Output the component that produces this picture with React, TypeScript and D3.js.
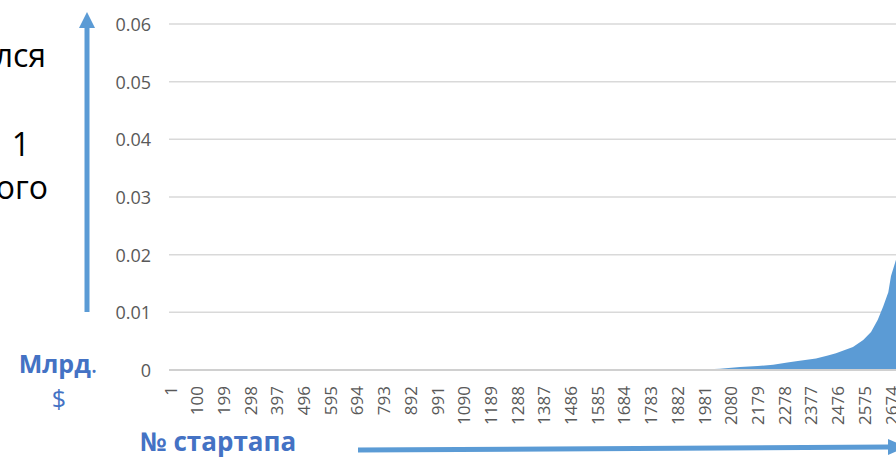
import React, { useEffect, useRef } from 'react';
import * as d3 from 'd3';

// startup rank (sorted ascending) and its value, bn $
const startupIndex = [1, 1850, 1881, 1930, 1977, 2040, 2114, 2180, 2237, 2290, 2322, 2396, 2440, 2470, 2533, 2571, 2600, 2625, 2645, 2664, 2674, 2693, 2710, 2740];
const valueBn = [0, 0, 0.00002, 0.00006, 0.0001, 0.0002, 0.0005, 0.0007, 0.0009, 0.0013, 0.0015, 0.002, 0.0025, 0.0029, 0.004, 0.0052, 0.0066, 0.0087, 0.011, 0.0135, 0.0163, 0.0192, 0.024, 0.035];

const xTickLabels = [1, 100, 199, 298, 397, 496, 595, 694, 793, 892, 991, 1090, 1189, 1288, 1387, 1486, 1585, 1684, 1783, 1882, 1981, 2080, 2179, 2278, 2377, 2476, 2575, 2674];
const yTickValues = [0, 0.01, 0.02, 0.03, 0.04, 0.05, 0.06];

const W = 896;
const H = 459;

const App: React.FC = () => {
  const svgRef = useRef<SVGSVGElement>(null);

  useEffect(() => {
    if (!svgRef.current) return;
    const svg = d3.select(svgRef.current);
    svg.selectAll('*').remove();

    const blue = '#5B9BD5';
    const dark = '#4472C4';
    const font = '"Open Sans", sans-serif';

    const x = d3.scaleLinear().domain([1, 2674]).range([170, 891]);
    const y = d3.scaleLinear().domain([0, 0.06]).range([370, 24]);

    const defs = svg.append('defs');
    defs.append('clipPath').attr('id', 'plotClip')
      .append('rect').attr('x', 169).attr('y', 0).attr('width', W - 169).attr('height', 372);

    // gridlines
    svg.append('g').selectAll('line')
      .data(yTickValues.filter(v => v > 0))
      .enter().append('line')
      .attr('x1', 169).attr('x2', W)
      .attr('y1', d => y(d)).attr('y2', d => y(d))
      .attr('stroke', '#d9d9d9').attr('stroke-width', 1.5);

    // area
    const pts = startupIndex.map((s, i) => ({ s, v: valueBn[i] }));
    const area = d3.area<{ s: number; v: number }>()
      .x(d => x(d.s))
      .y0(y(0))
      .y1(d => y(d.v));
    svg.append('path')
      .datum(pts)
      .attr('d', area)
      .attr('fill', blue)
      .attr('clip-path', 'url(#plotClip)');

    // baseline
    svg.append('line')
      .attr('x1', 169).attr('x2', W)
      .attr('y1', y(0)).attr('y2', y(0))
      .attr('stroke', '#d0d0d0').attr('stroke-width', 2);

    // y labels
    svg.append('g').selectAll('text')
      .data(yTickValues)
      .enter().append('text')
      .attr('x', 151).attr('y', d => y(d))
      .attr('text-anchor', 'end')
      .attr('dominant-baseline', 'central')
      .attr('font-family', font)
      .attr('font-size', 18)
      .attr('fill', '#595959')
      .text(d => (d === 0 ? '0' : d3.format('.2f')(d)));

    // x labels
    svg.append('g').selectAll('text')
      .data(xTickLabels)
      .enter().append('text')
      .attr('transform', d => `translate(${x(d)},386) rotate(-90)`)
      .attr('text-anchor', 'end')
      .attr('dominant-baseline', 'central')
      .attr('font-family', font)
      .attr('font-size', 17)
      .attr('fill', '#595959')
      .text(d => String(d));

    // y arrow
    svg.append('line')
      .attr('x1', 87).attr('x2', 87).attr('y1', 312).attr('y2', 26)
      .attr('stroke', blue).attr('stroke-width', 5);
    svg.append('path')
      .attr('d', 'M79,28 L87,12 L95,28 Z')
      .attr('fill', blue);

    // x arrow
    svg.append('line')
      .attr('x1', 358).attr('x2', 890).attr('y1', 450).attr('y2', 447)
      .attr('stroke', blue).attr('stroke-width', 5);
    svg.append('path')
      .attr('d', 'M888,439 L906,447 L888,455 Z')
      .attr('fill', blue);

    // axis captions
    const unit = svg.append('text')
      .attr('x', 58).attr('y', 373)
      .attr('text-anchor', 'middle')
      .attr('font-family', font)
      .attr('font-size', 25)
      .attr('fill', dark);
    unit.append('tspan').attr('font-weight', 'bold').text('Млрд');
    unit.append('tspan').text('.');
    svg.append('text')
      .attr('x', 59).attr('y', 408)
      .attr('text-anchor', 'middle')
      .attr('font-family', font)
      .attr('font-size', 25)
      .attr('fill', dark)
      .text('$');

    svg.append('text')
      .attr('x', 140).attr('y', 451)
      .attr('font-family', font)
      .attr('font-size', 26)
      .attr('font-weight', 'bold')
      .attr('fill', dark)
      .text('№ стартапа');

    // cut-off side text
    const side = [
      { t: 'лся', x: 46, y: 67 },
      { t: '1', x: 30, y: 156 },
      { t: 'ого', x: 48, y: 199 }
    ];
    svg.append('g').selectAll('text')
      .data(side)
      .enter().append('text')
      .attr('x', d => d.x).attr('y', d => d.y)
      .attr('text-anchor', 'end')
      .attr('font-family', font)
      .attr('font-size', 32)
      .attr('fill', '#000')
      .text(d => d.t);
  }, []);

  return (
    <svg
      ref={svgRef}
      width={W}
      height={H}
      style={{ position: 'absolute', left: 0, top: 0, background: '#fff' }}
    />
  );
};

export default App;
